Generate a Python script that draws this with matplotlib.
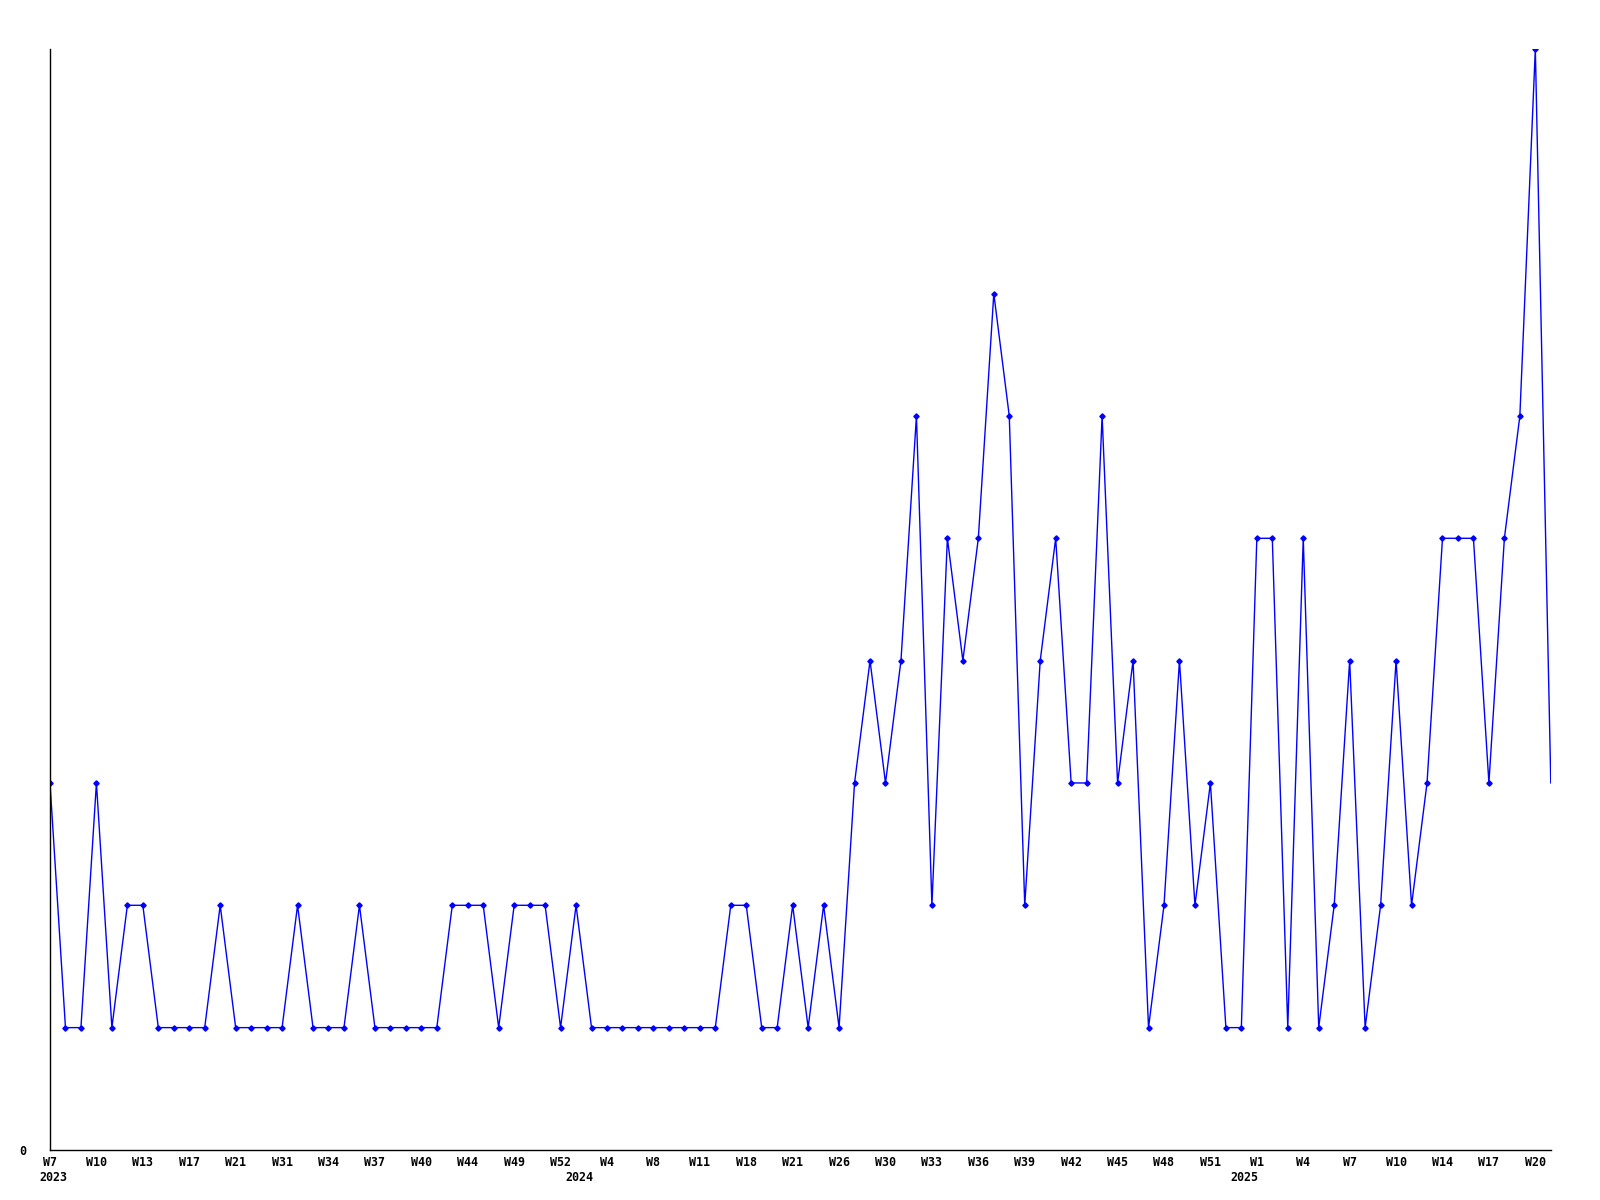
import matplotlib
matplotlib.use("Agg")
import matplotlib.pyplot as plt

# weekly counts (only weeks with data)
values = [3, 1, 1, 3, 1, 2, 2, 1, 1, 1, 1, 2, 1, 1, 1, 1, 2, 1, 1, 1,
          2, 1, 1, 1, 1, 1, 2, 2, 2, 1, 2, 2, 2, 1, 2, 1, 1, 1, 1, 1,
          1, 1, 1, 1, 2, 2, 1, 1, 2, 1, 2, 1, 3, 4, 3, 4, 6, 2, 5, 4,
          5, 7, 6, 2, 4, 5, 3, 3, 6, 3, 4, 1, 2, 4, 2, 3, 1, 1, 5, 5,
          1, 5, 1, 2, 4, 1, 2, 4, 2, 3, 5, 5, 5, 3, 5, 6, 9, 3]

week_labels = ["W7", "W10", "W13", "W17", "W21", "W31", "W34", "W37", "W40",
               "W44", "W49", "W52",
               "W4", "W8", "W11", "W18", "W21", "W26", "W30", "W33", "W36",
               "W39", "W42", "W45", "W48", "W51",
               "W1", "W4", "W7", "W10", "W14", "W17", "W20"]
label_step = 3

years = ["2023", "2024", "2025"]
year_pos = [0.2, 34.2, 77.2]

font = dict(family="DejaVu Sans Mono", weight="bold", size=8.4)

fig = plt.figure(figsize=(16, 12), dpi=100)
ax = fig.add_axes([0.03125, 0.0417, 0.938, 0.9175])

x = list(range(len(values)))
ax.plot(x, values, color="#0000ff", lw=1.0)
ax.plot(x[:-1], values[:-1], ls="none", marker="D", ms=2.7, color="#0000ff")

ax.set_xlim(0, len(values) - 1)
ax.set_ylim(0, 9)

ax.spines["top"].set_visible(False)
ax.spines["right"].set_visible(False)
ax.spines["left"].set_linewidth(1.0)
ax.spines["bottom"].set_linewidth(1.0)

ax.set_xticks(x[::label_step])
ax.set_xticklabels(week_labels, fontdict=font)
ax.set_yticks([0])
ax.set_yticklabels(["0"], fontdict=font)
ax.tick_params(axis="x", length=0, pad=4.5)
ax.tick_params(axis="y", length=0, pad=17)

for yr, pos in zip(years, year_pos):
    ax.annotate(yr, xy=(pos, 0), xycoords=("data", "axes fraction"),
                xytext=(0, -20), textcoords="offset points",
                ha="center", va="center", **font)

fig.savefig("out.png", dpi=100)
